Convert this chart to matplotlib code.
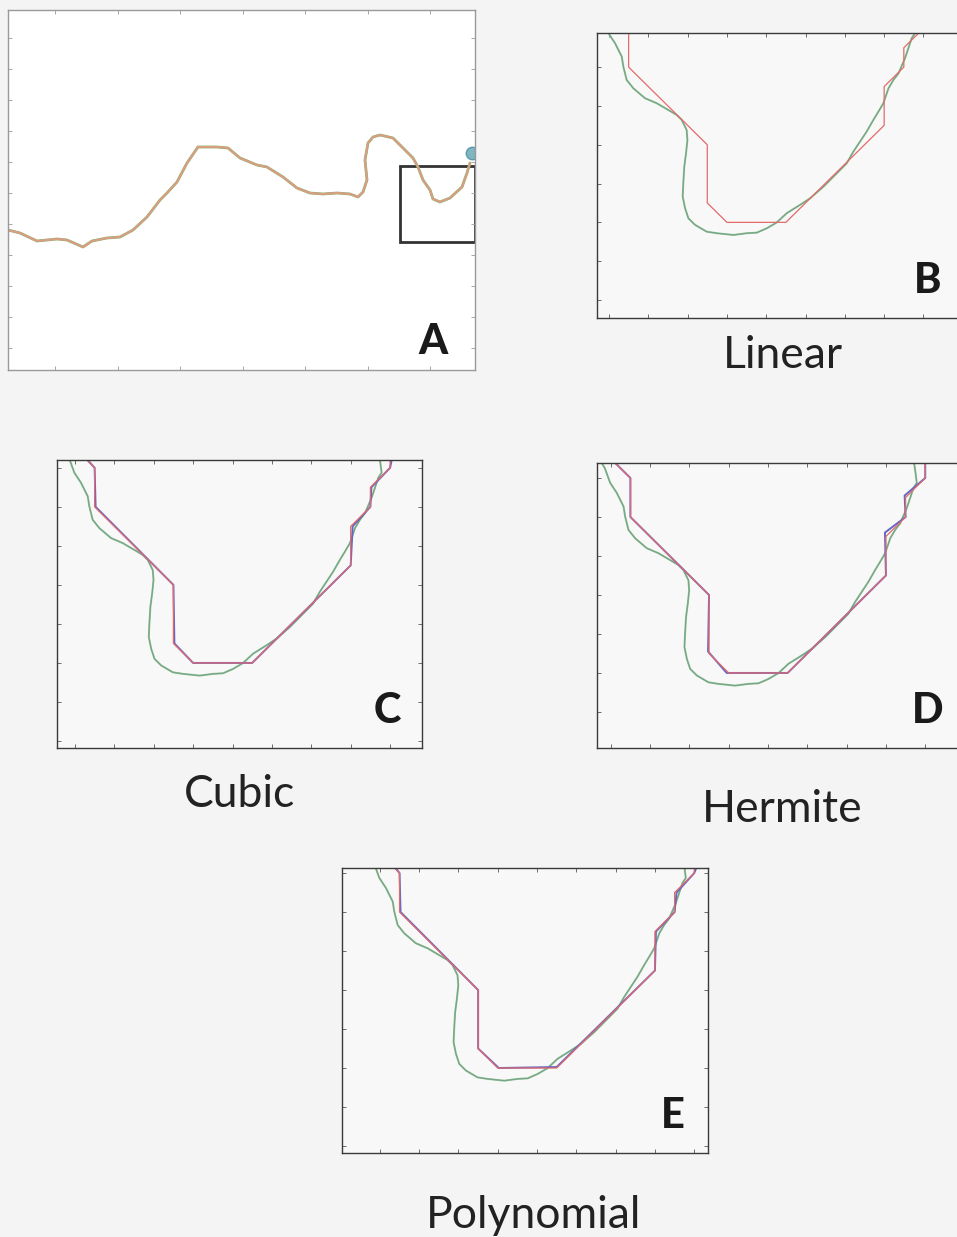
import matplotlib
matplotlib.use("Agg")
import matplotlib.pyplot as plt
from matplotlib.patches import Rectangle
from matplotlib.ticker import MultipleLocator

# ---------------------------------------------------------------------------
# Full trajectory (overview panel), in overview pixel units
full_x = [0, 12, 29, 49, 59, 75, 84, 99, 112, 125, 139, 152, 159, 169, 179,
          190, 209, 220, 232, 249, 259, 275, 289, 302, 315, 329, 342, 350,
          355, 359, 357, 360, 365, 372, 385, 395, 405, 410, 415, 422, 425,
          432, 442, 454, 459, 462]
full_y = [140, 137, 129, 131, 130, 123, 129, 132, 133, 140, 153, 170, 177,
          188, 207, 223, 223, 222, 212, 205, 203, 193, 182, 177, 176, 177,
          176, 173, 178, 190, 210, 227, 233, 235, 232, 222, 212, 203, 190,
          180, 171, 168, 172, 183, 197, 207]
end_point = (464, 217)
zoom_box = (392, 128, 75, 76)   # x, y, width, height

# Ground-truth contour inside the zoom window (grid units)
true_x = [-0.6, -0.3, -0.03, 0.31, 0.65, 0.73, 0.90, 1.24, 1.83, 2.43, 3.02,
          3.44, 3.70, 3.95, 3.99, 3.92, 3.83, 3.78, 3.75, 3.87, 4.04, 4.38,
          4.97, 5.48, 6.33, 7.01, 7.52, 8.02, 8.53, 9.04, 9.72, 10.23, 10.91,
          11.59, 12.09, 12.43, 12.77, 13.11, 13.45, 13.71, 13.96, 14.22,
          14.47, 14.73, 15.06, 15.23, 15.40, 15.57, 15.5, 15.4]
true_y = [15.0, 14.5, 13.75, 13.23, 12.54, 12.03, 11.34, 10.91, 10.40, 10.14,
          9.79, 9.54, 9.28, 8.76, 8.25, 7.56, 6.87, 6.01, 5.33, 4.73, 4.21,
          3.87, 3.52, 3.44, 3.35, 3.44, 3.47, 3.69, 3.99, 4.47, 4.90, 5.24,
          5.84, 6.53, 7.04, 7.64, 8.16, 8.68, 9.28, 9.71, 10.14, 10.91, 11.34,
          11.68, 12.46, 12.97, 13.49, 13.75, 14.3, 15.0]

# Reconstructed contours (grid units)
linear_x = [0, 1, 1, 5, 5, 6, 9, 14, 14, 15, 15, 16, 16]
linear_y = [15, 14, 12, 8, 5, 4, 4, 9, 11, 12, 13, 14, 15]

cubic_x = [0.1, 1, 1.05, 5, 5.05, 6, 9, 14, 14.1, 15, 15.05, 16, 16.2]
cubic_y = [15, 14, 12, 8, 5, 4, 4, 9, 11, 12, 13, 14, 15]

hermite_x = [0, 1, 1, 5, 4.95, 5.9, 9, 14, 13.95, 15, 14.95, 16, 16]
hermite_y = [15, 14, 12, 8, 5.1, 4, 4, 9, 11.2, 12, 13.1, 14, 15]

poly_x = [0.2, 1, 1.05, 5, 5.0, 6.05, 9, 14, 14.05, 15, 15.1, 16, 16.4]
poly_y = [15, 14, 12, 8, 5, 4, 4.05, 9, 11, 12, 13, 14, 15]

# Per-panel view windows (grid units)
views = {
    "B": ((-0.61, 17.96), (-0.93, 13.76)),
    "C": ((-0.91, 17.62), (-0.36, 14.40)),
    "D": ((-0.70, 17.87), (0.15, 14.77)),
    "E": ((-1.93, 16.70), (-0.36, 14.26)),
}

# ---------------------------------------------------------------------------
W, H = 957, 1237
fig = plt.figure(figsize=(W / 100, H / 100), dpi=100)
fig.patch.set_facecolor("#f4f4f4")

cap_font = "Lato"


def px_axes(x0, y0, x1, y1):
    return fig.add_axes([x0 / W, 1 - y1 / H, (x1 - x0) / W, (y1 - y0) / H])


def style_box(ax, edge, tick_color):
    ax.tick_params(direction="in", length=3, width=0.6, colors=tick_color,
                   top=True, right=True, labelbottom=False, labelleft=False)
    for s in ax.spines.values():
        s.set_color(edge)
        s.set_linewidth(1.0)


# Overview panel
axA = px_axes(8, 10, 475, 370)
axA.set_facecolor("white")
axA.plot(full_x, full_y, color="#7cc07a", lw=2.0, solid_capstyle="round")
axA.plot(full_x, full_y, color="#7a6fb8", lw=1.2, alpha=0.6)
axA.plot(full_x, full_y, color="#eba07a", lw=1.6, alpha=0.85)
axA.plot(*end_point, "o", ms=9, color="#6aa8b8", mec="#4f8f9f", alpha=0.85)
axA.add_patch(Rectangle(zoom_box[:2], zoom_box[2], zoom_box[3], fill=False,
                        ec="#333333", lw=2.0))
axA.set_xlim(0, 467)
axA.set_ylim(0, 360)
axA.set_xticks([47 + 62.5 * k for k in range(7)])
axA.set_yticks([22 + 31 * k for k in range(11)])
style_box(axA, "#999999", "#999999")
fig.text(433 / W, 1 - 342 / H, "A", fontsize=30, fontweight="black",
         family=cap_font, ha="center", va="center", color="#1a1a1a")

# Zoomed panels
panels = [
    ("B", (597, 33, 962, 318), None, "Linear", (783, 368)),
    ("C", (57, 460, 422, 748), (cubic_x, cubic_y), "Cubic", (240, 807)),
    ("D", (597, 463, 962, 748), (hermite_x, hermite_y), "Hermite", (782, 822)),
    ("E", (342, 868, 708, 1153), (poly_x, poly_y), "Polynomial", (534, 1228)),
]

for letter, (x0, y0, x1, y1), interp, caption, (cx, cy) in panels:
    ax = px_axes(x0, y0, x1, y1)
    ax.set_facecolor("#f8f8f8")
    ax.plot(true_x, true_y, color="#8fc48a", lw=1.4)
    ax.plot(true_x, true_y, color="#6d9490", lw=0.8, alpha=0.7)
    if interp is not None:
        ax.plot(interp[0], interp[1], color="#6666c4", lw=1.4)
    ax.plot(linear_x, linear_y, color="#e46a6a", lw=0.9)
    xl, yl = views[letter]
    ax.set_xlim(*xl)
    ax.set_ylim(*yl)
    ax.xaxis.set_major_locator(MultipleLocator(2))
    ax.yaxis.set_major_locator(MultipleLocator(2))
    style_box(ax, "#3a3a3a", "#555555")
    ax.text(0.905, 0.13, letter, transform=ax.transAxes, fontsize=30,
            fontweight="black", family=cap_font, ha="center", va="center",
            color="#1a1a1a")
    fig.text(cx / W, 1 - cy / H, caption, fontsize=32, family=cap_font,
             ha="center", va="baseline", color="#222222")

fig.savefig("out.png", dpi=100, facecolor=fig.get_facecolor())
